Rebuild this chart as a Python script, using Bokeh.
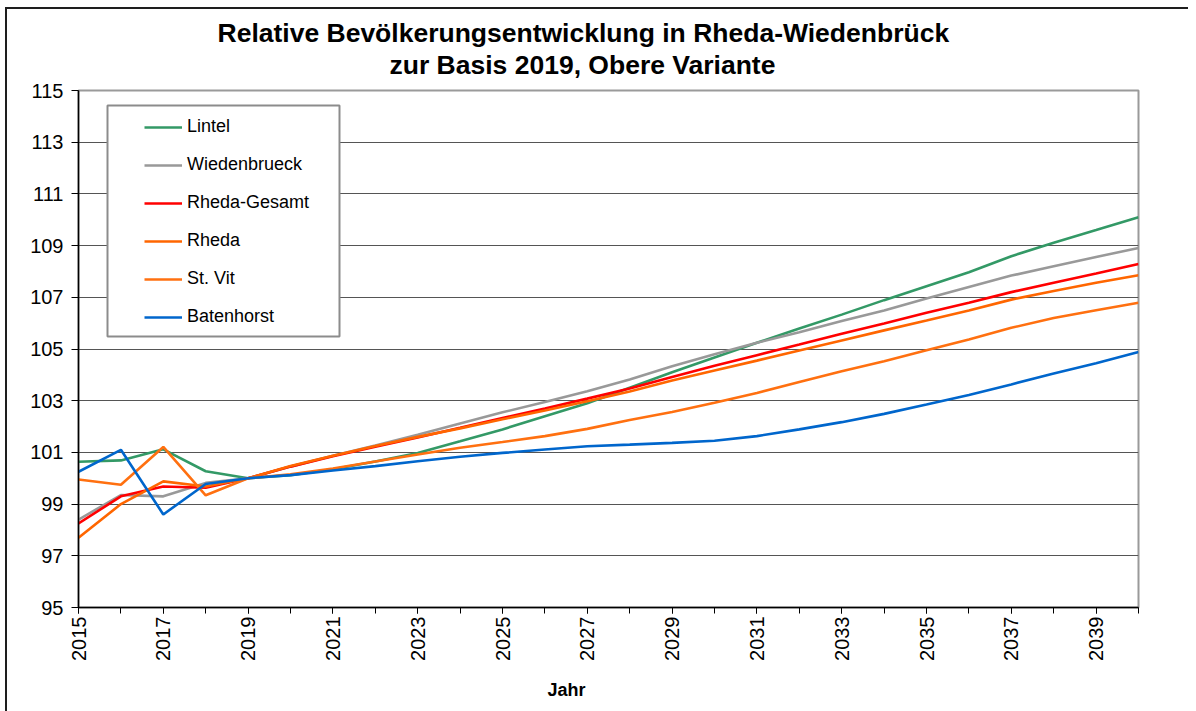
import math
from bokeh.plotting import figure
from bokeh.models import (FixedTicker, Legend, LegendItem, BoxAnnotation, Range1d, Title)
from bokeh.embed import file_html
from bokeh.resources import INLINE

years = list(range(2015, 2041))

lintel = [100.64, 100.69, 101.12, 100.27, 100.00, 100.12, 100.35, 100.65, 100.98, 101.43,
          101.89, 102.40, 102.90, 103.50, 104.10, 104.67, 105.24, 105.79, 106.33, 106.89,
          107.43, 107.97, 108.59, 109.11, 109.60, 110.10]
wiedenbrueck = [98.40, 99.35, 99.30, 99.82, 100.00, 100.45, 100.87, 101.27, 101.68, 102.12,
                102.55, 102.95, 103.37, 103.82, 104.33, 104.80, 105.24, 105.65, 106.08, 106.49,
                106.95, 107.40, 107.84, 108.20, 108.56, 108.91]
rheda_gesamt = [98.25, 99.30, 99.68, 99.63, 100.00, 100.45, 100.85, 101.22, 101.58, 101.95,
                102.33, 102.70, 103.08, 103.47, 103.92, 104.35, 104.76, 105.17, 105.59, 105.99,
                106.40, 106.79, 107.20, 107.56, 107.92, 108.29]
rheda = [97.70, 99.00, 99.88, 99.68, 100.00, 100.47, 100.87, 101.25, 101.60, 101.93,
         102.28, 102.62, 102.98, 103.36, 103.78, 104.17, 104.55, 104.94, 105.33, 105.72,
         106.10, 106.49, 106.91, 107.24, 107.56, 107.85]
st_vit = [99.95, 99.75, 101.21, 99.34, 100.00, 100.15, 100.38, 100.65, 100.92, 101.18,
          101.40, 101.63, 101.91, 102.25, 102.56, 102.92, 103.30, 103.72, 104.14, 104.53,
          104.95, 105.37, 105.82, 106.20, 106.50, 106.79]
batenhorst = [100.25, 101.10, 98.60, 99.78, 100.00, 100.12, 100.30, 100.47, 100.66, 100.83,
              100.98, 101.11, 101.24, 101.30, 101.37, 101.45, 101.63, 101.89, 102.17, 102.49,
              102.85, 103.22, 103.63, 104.05, 104.45, 104.88]

series_names = ["Lintel", "Wiedenbrueck", "Rheda-Gesamt", "Rheda", "St. Vit", "Batenhorst"]
series_values = [lintel, wiedenbrueck, rheda_gesamt, rheda, st_vit, batenhorst]
series_colors = ["#339966", "#999999", "#ff0000", "#ff6600", "#ff7010", "#0066cc"]

y_ticks = [95, 97, 99, 101, 103, 105, 107, 109, 111, 113, 115]
x_label_years = [y for y in years if y % 2 == 1]

title_line1 = "Relative Bevölkerungsentwicklung in Rheda-Wiedenbrück"
title_line2 = "zur Basis 2019, Obere Variante"
x_title = "Jahr"

FONT = "Liberation Sans"

p = figure(frame_width=1060, frame_height=517,
           x_range=Range1d(years[0], years[-1]), y_range=Range1d(y_ticks[0], y_ticks[-1]),
           output_backend="svg", toolbar_location=None,
           min_border_left=71, min_border_right=50, min_border_top=81, min_border_bottom=102,
           background_fill_color="white", border_fill_color="white",
           styles={"border-top": "2px solid #1e1e1e", "border-left": "2px solid #1e1e1e",
                   "margin-left": "5px", "margin-top": "7px"})

p.title.text = title_line1
p.title.align = "left"
p.title.offset = 139
p.title.standoff = 0
p.title.text_font = FONT
p.title.text_font_size = "26.5px"
p.title.text_font_style = "bold"
p.title.text_color = "black"

# thin spacer panel between the subtitle and the plot frame (first added = closest to frame)
spacer = Title(text=" ", align="left", standoff=8, text_font=FONT,
               text_font_size="1px", text_color="white")
p.add_layout(spacer, "above")

t2 = Title(text=title_line2, align="left", offset=311, standoff=0, text_font=FONT,
           text_font_size="26.5px", text_font_style="bold", text_color="black")
p.add_layout(t2, "above")

t3 = Title(text=x_title, align="left", offset=469, standoff=28, text_font=FONT,
           text_font_size="18px", text_font_style="bold", text_color="black")
p.add_layout(t3, "below")

p.outline_line_color = "#9a9a9a"
p.outline_line_width = 2

p.xgrid.grid_line_color = None
p.ygrid.ticker = FixedTicker(ticks=y_ticks)
p.ygrid.grid_line_color = "#555555"
p.ygrid.grid_line_width = 1

p.yaxis.ticker = FixedTicker(ticks=y_ticks)
p.xaxis.ticker = FixedTicker(ticks=x_label_years, minor_ticks=years)
for ax in (p.xaxis[0], p.yaxis[0]):
    ax.axis_line_color = "black"
    ax.axis_line_width = 1.5
    ax.major_tick_line_color = "black"
    ax.major_tick_in = 0
    ax.major_label_text_font = FONT
    ax.major_label_text_color = "black"
    ax.major_label_text_font_size = "20px"
p.yaxis.major_tick_out = 7
p.yaxis.minor_tick_line_color = None
p.yaxis.major_label_standoff = 8
p.xaxis.major_tick_out = 6
p.xaxis.minor_tick_in = 0
p.xaxis.minor_tick_out = 6
p.xaxis.minor_tick_line_color = "black"
p.xaxis.major_label_standoff = 3
p.xaxis.major_label_orientation = math.pi / 2

renderers = []
for name, vals, col in zip(series_names, series_values, series_colors):
    r = p.line(years, vals, line_color=col, line_width=2.6)
    renderers.append(r)

box = BoxAnnotation(left=29, right=261, bottom=271, top=502,
                    left_units="screen", right_units="screen",
                    top_units="screen", bottom_units="screen",
                    fill_color="white", fill_alpha=1.0,
                    line_color="#8c8c8c", line_width=2, line_alpha=1.0)
p.add_layout(box)

legend = Legend(items=[LegendItem(label=n, renderers=[r]) for n, r in zip(series_names, renderers)],
                location=(66, 280), padding=0, spacing=17, glyph_height=20, glyph_width=38,
                label_standoff=5, border_line_color=None, background_fill_alpha=0,
                label_text_font=FONT, label_text_font_size="18px", label_text_color="black",
                margin=0)
p.add_layout(legend)

open("out.html", "w").write(file_html(p, INLINE))
